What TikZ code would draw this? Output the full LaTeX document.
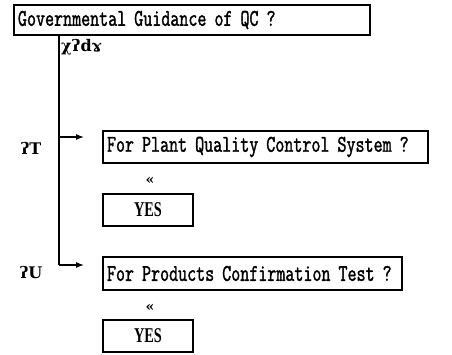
\documentclass[tikz,border=0pt]{standalone}
\usepackage{fontspec}
\usetikzlibrary{arrows.meta}
\newfontfamily\qmono[FakeStretch=0.73,FakeBold=1.5]{Latin Modern Mono}
\newfontfamily\qserif[FakeStretch=0.68]{Liberation Serif}
\newfontfamily\qglyph{DejaVu Serif}
\tikzset{
  qbox/.style={draw, line width=2pt, rectangle, inner xsep=4pt, inner ysep=0pt,
    align=left, font=\qmono\fontsize{24}{24}\selectfont},
  yesbox/.style={draw, line width=2pt, rectangle, minimum width=90, minimum height=32,
    inner sep=0pt, font=\qserif\bfseries\fontsize{21}{21}\selectfont},
  tag/.style={inner sep=0pt, font=\qglyph\bfseries\fontsize{16}{16}\selectfont},
  branch/.style={line width=1.2pt},
  arr/.style={line width=1.2pt, -{Latex[length=8pt,width=6pt]}},
}
\begin{document}
\begin{tikzpicture}[x=1pt,y=-1pt]
\useasboundingbox (0,0) rectangle (452,354);
% question boxes
\node[qbox, text width=348, minimum height=30] (top) at (192,20)
  {Governmental Guidance of QC ?};
\node[qbox, text width=317, minimum height=32] (plant) at (265.5,147)
  {For Plant Quality Control System ?};
\node[qbox, text width=291, minimum height=33] (prod) at (252.5,273.5)
  {For Products Confirmation Test ?};
% answers
\node[yesbox] (yes1) at (148,210) {YES};
\node[yesbox] (yes2) at (148,336) {YES};
% small marks
\node[tag, anchor=west] (t0) at (61,47) {χʔdɤ};
\node[tag] (t1) at (31,148) {ʔT};
\node[tag] (t2) at (31,273) {ʔU};
\node[tag, font=\qglyph\bfseries\fontsize{14}{14}\selectfont] (m1) at (150,181) {«};
\node[tag, font=\qglyph\bfseries\fontsize{14}{14}\selectfont] (m2) at (150,308) {«};
% branching connector
\coordinate (j1) at (59,137);
\coordinate (j2) at (59,265);
\coordinate (e1) at (84,137);
\coordinate (e2) at (84,265);
\draw[branch] (top.south -| j2) -- (j2);
\draw[arr] (j1) -- (e1);
\draw[arr] (j2) -- (e2);
\end{tikzpicture}
\end{document}
